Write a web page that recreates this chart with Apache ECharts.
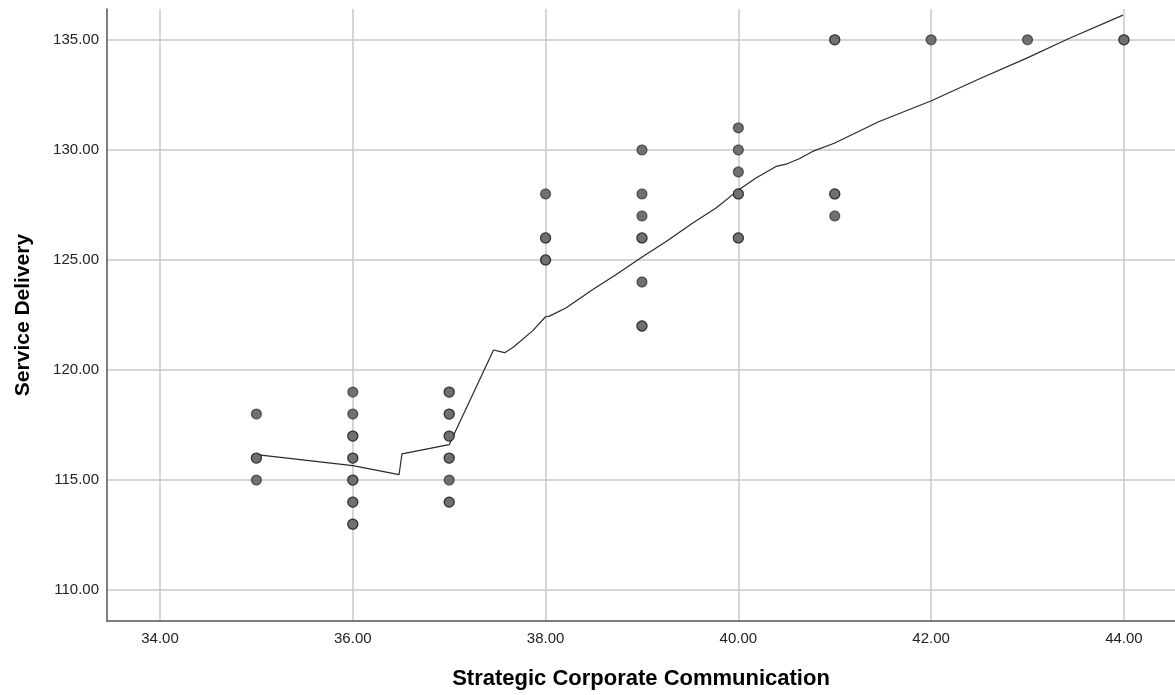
<!DOCTYPE html>
<html>
<head>
<meta charset="utf-8">
<script src="https://cdn.jsdelivr.net/npm/echarts@6/dist/echarts.min.js"></script>
<style>
html,body{margin:0;padding:0;background:#fff;}
#chart{width:1175px;height:695px;}
</style>
</head>
<body>
<div id="chart"></div>
<script>
// scatter points (repeated pairs are overlapping cases)
var scX = [35,35,35,35,
    36,36,36,36,36,36,36,36,36,36,36,36,
    37,37,37,37,37,37,37,37,37,37,37,
    38,38,38,38,38,
    39,39,39,39,39,39,39,39,
    40,40,40,40,40,40,40,
    41,41,41,41,41,
    42,43,44,44];
var scY = [118,116,116,115,
    119,118,117,117,116,116,115,115,114,114,113,113,
    119,119,118,118,117,117,116,116,115,114,114,
    128,126,126,125,125,
    130,128,127,126,126,124,122,122,
    131,130,129,128,128,126,126,
    135,135,128,128,127,
    135,135,135,135];

// fit line
var fitX = [35.0,36.0,36.48,36.51,37.0,37.46,37.52,37.575,37.661,37.865,38.0,38.041,38.215,38.49,38.733,38.998,39.251,39.527,39.769,39.993,40.183,40.391,40.494,40.632,40.77,40.995,41.461,41.997,42.497,42.998,43.43,43.99];
var fitY = [116.16,115.66,115.25,116.19,116.61,120.91,120.85,120.79,121.02,121.78,122.42,122.45,122.83,123.66,124.34,125.12,125.84,126.68,127.36,128.15,128.72,129.25,129.35,129.6,129.93,130.3,131.29,132.22,133.22,134.18,135.06,136.12];

var xTicks = [34,36,38,40,42,44];
var yTicks = [110,115,120,125,130,135];

var chart = echarts.init(document.getElementById('chart'));

var points = [];
for (var i = 0; i < scX.length; i++) points.push([scX[i], scY[i]]);
var fit = [];
for (var j = 0; j < fitX.length; j++) fit.push([fitX[j], fitY[j]]);

var gridMarks = [];
xTicks.forEach(function(v){ gridMarks.push({xAxis: v}); });
yTicks.forEach(function(v){ gridMarks.push({yAxis: v}); });

var option = {
    backgroundColor: '#fff',
    animation: false,
    grid: {left: 107, right: 0, top: 9, bottom: 74, containLabel: false, outerBoundsMode: 'none'},
    xAxis: {
        type: 'value',
        min: 33.45,
        max: 44.53,
        name: 'Strategic Corporate Communication',
        nameLocation: 'middle',
        nameGap: 47,
        nameTextStyle: {fontFamily: 'Liberation Sans', fontWeight: 'bold', fontSize: 22, color: '#000'},
        axisLine: {show: true, lineStyle: {color: '#555', width: 1.5}},
        axisTick: {show: false},
        splitLine: {show: false},
        axisLabel: {
            customValues: xTicks,
            margin: 10,
            fontFamily: 'Liberation Sans',
            fontSize: 15,
            color: '#222',
            formatter: function(v){ return v.toFixed(2); }
        }
    },
    yAxis: {
        type: 'value',
        min: 108.6,
        max: 136.4,
        name: 'Service Delivery',
        nameLocation: 'middle',
        nameGap: 73,
        nameTextStyle: {fontFamily: 'Liberation Sans', fontWeight: 'bold', fontSize: 21, color: '#000'},
        axisLine: {show: true, lineStyle: {color: '#555', width: 1.5}},
        axisTick: {show: false},
        splitLine: {show: false},
        axisLabel: {
            customValues: yTicks,
            margin: 8,
            fontFamily: 'Liberation Sans',
            fontSize: 15,
            color: '#222',
            formatter: function(v){ return v.toFixed(2); }
        }
    },
    series: [{
        type: 'line',
        data: [],
        silent: true,
        z: 0,
        markLine: {
            silent: true,
            z: 0,
            symbol: 'none',
            label: {show: false},
            lineStyle: {color: '#c8c8c8', width: 1.5, type: 'solid'},
            data: gridMarks
        }
    }, {
        type: 'line',
        data: fit,
        showSymbol: false,
        smooth: false,
        lineStyle: {color: '#2a2a2a', width: 1.2},
        z: 3
    }, {
        type: 'scatter',
        data: points,
        symbolSize: 10,
        itemStyle: {color: '#707070', opacity: 1, borderColor: 'rgba(0,0,0,0.5)', borderWidth: 1.3},
        z: 4
    }]
};
chart.setOption(option);
</script>
</body>
</html>
